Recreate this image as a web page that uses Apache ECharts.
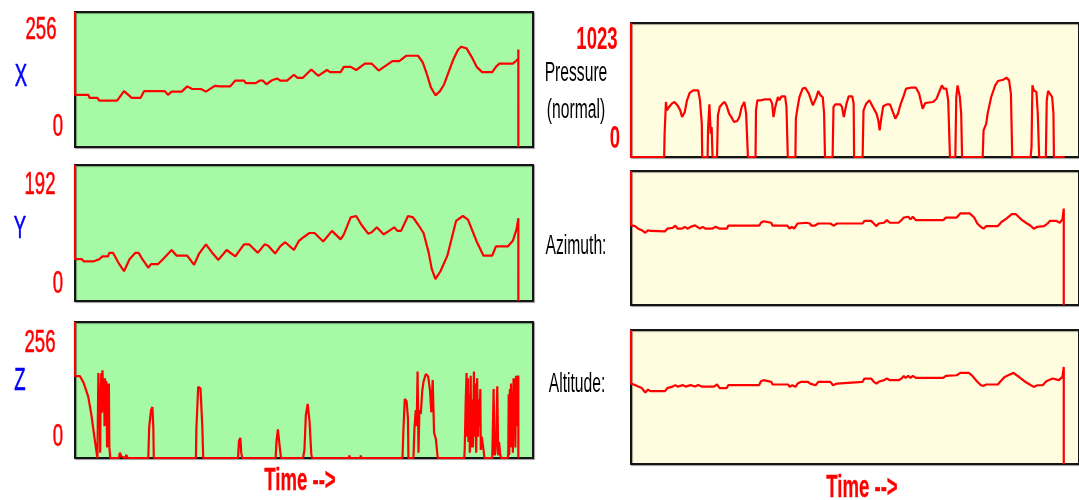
<!DOCTYPE html>
<html>
<head>
<meta charset="utf-8">
<script src="https://cdn.jsdelivr.net/npm/echarts@6/dist/echarts.min.js"></script>
<style>
  html, body { margin: 0; padding: 0; background: #ffffff; }
  #chart { width: 1079px; height: 500px; }
</style>
</head>
<body>
<div id="chart"></div>
<script>
// Pen tablet trace: six channels sampled over the same time span (time in % of capture).
const timeRange = [0, 100];

// Channel ranges and their tick labels
const xRange = [0, 256];   const xTicks = ['256', '0'];
const yRange = [0, 192];   const yTicks = ['192', '0'];
const zRange = [0, 256];   const zTicks = ['256', '0'];
const pRange = [0, 1023];  const pTicks = ['1023', '0'];
const azRange = [0, 360];
const altRange = [0, 90];

const channelNames = ['X', 'Y', 'Z'];
const penNames = ['Pressure', '(normal)', 'Azimuth:', 'Altitude:'];
const timeTitle = 'Time -->';

// [time, value] samples per channel
const xSamples = [[0,256],[0,99],[2.9,99],[3.2,93],[4.9,93],[5.3,88],[9.2,88],[10.7,106],[11.9,97],[12.4,93],[14.3,93],[15.1,106],[19.6,106],[20.3,99],[21.1,105],[23.3,105],[24.5,115],[25.6,110],[27.5,110],[28.6,105],[30.5,116],[31.6,115],[33.9,115],[35.0,126],[36.9,126],[37.3,121],[39.5,121],[40.3,126],[41.0,126],[41.8,119],[42.9,126],[44.1,130],[44.8,126],[46.3,126],[47.8,137],[48.6,131],[49.7,131],[51.6,147],[53.1,135],[55.0,146],[55.7,142],[58.0,142],[58.7,152],[60.2,152],[61.4,146],[63.3,158],[64.8,158],[66.3,145],[68.5,158],[69.3,163],[70.8,163],[72.3,173],[74.9,173],[75.9,161],[76.8,139],[77.7,113],[78.7,98],[79.7,106],[80.6,119],[82.5,164],[83.6,184],[84.3,190],[85.5,187],[86.6,171],[87.7,152],[88.9,142],[91.1,142],[91.9,152],[92.6,158],[95.6,158],[96.4,164],[96.8,168],[96.8,185],[96.8,0]];

const ySamples = [[0,192],[0,59],[1.5,59],[1.9,56],[4.1,56],[5.3,59],[6.0,63],[7.2,63],[7.5,68],[8.3,68],[9.4,55],[10.7,42],[11.9,59],[13.2,68],[13.9,68],[14.7,59],[16.0,47],[16.6,52],[18.1,52],[19.2,59],[21.1,72],[22.2,64],[24.5,64],[26.0,51],[27.1,67],[28.6,80],[30.1,67],[31.3,58],[33.1,72],[33.5,72],[35.0,63],[36.9,80],[38.0,80],[39.9,68],[41.4,80],[42.2,78],[43.7,67],[44.8,77],[45.9,83],[47.8,72],[48.9,85],[49.7,89],[51.2,96],[52.3,96],[54.2,84],[56.1,99],[58.0,87],[58.7,94],[60.2,118],[61.4,120],[62.5,108],[64.0,95],[64.8,97],[65.9,104],[67.4,94],[68.1,97],[69.7,104],[70.4,99],[71.2,99],[72.7,120],[73.8,118],[74.9,108],[76.1,96],[77.2,69],[77.9,45],[78.7,31],[79.8,42],[81.3,64],[83.2,113],[84.7,120],[85.8,115],[87.7,84],[89.2,64],[91.1,64],[91.9,77],[94.5,77],[95.6,85],[96.4,101],[96.8,117],[96.8,0]];

const zSamples = [[0,256],[0,154],[1.1,154],[1.9,141],[2.9,115],[3.6,80],[4.4,29],[4.9,0],
  [5.0,0],[5.1,160],[5.25,90],[5.4,130],[5.5,10],[5.6,120],[5.75,160],[5.9,85],[6.0,165],[6.15,110],[6.3,150],[6.45,60],[6.55,150],[6.7,85],[6.85,145],[7.0,20],[7.1,140],[7.25,60],[7.4,140],[7.5,20],[7.6,20],[7.7,0],
  [9.6,0],[9.8,10],[10.1,3],[10.3,0],[11.0,0],[11.2,6],[11.5,0],
  [16.0,0],[16.2,58],[16.6,90],[16.9,96],[17.1,58],[17.2,0],
  [26.4,0],[26.5,54],[26.9,134],[27.4,131],[27.8,58],[28.0,0],
  [35.6,0],[35.8,32],[36.1,38],[36.3,10],[36.5,0],
  [43.8,0],[44.0,32],[44.3,54],[44.6,51],[44.8,13],[45.0,0],
  [49.8,0],[50.1,16],[50.4,80],[50.8,102],[51.2,70],[51.6,6],[51.8,0],
  [59.8,0],[59.9,5],[60.0,0],[62.3,0],[62.4,5],[62.5,0],
  [71.5,0],[71.7,51],[72.0,111],[72.4,107],[72.7,74],[72.8,0],
  [73.9,0],[74.1,54],[74.4,90],[74.6,60],[74.8,163],[75.0,10],[75.2,90],[75.5,83],[75.8,125],[76.1,144],[76.6,158],[77.1,154],[77.5,128],[77.8,86],[78.1,147],[78.4,48],[78.8,35],[79.2,0],
  [85.0,0],[85.1,20],[85.3,105],[85.5,160],[85.6,40],[85.8,150],[85.9,30],[86.1,120],[86.2,10],[86.4,155],[86.5,20],[86.7,110],[86.9,20],[87.1,163],[87.2,40],[87.4,140],[87.6,10],[87.8,150],[88.0,40],[88.1,110],[88.3,60],[88.5,130],[88.6,15],[88.8,40],[89.2,15],[89.4,0],
  [91.1,0],[91.2,40],[91.4,130],[91.6,5],[91.8,10],[92.0,40],[92.2,135],[92.4,5],[92.6,30],[92.8,10],[93.0,0],
  [94.5,0],[94.6,10],[94.7,120],[94.8,5],[94.95,130],[95.1,20],[95.2,140],[95.35,30],[95.5,125],[95.6,10],[95.75,150],[95.9,40],[96.0,150],[96.15,20],[96.3,155],[96.45,60],[96.6,150],[96.8,155],[96.8,0]];

const pSamples = [[0,1023],[0,0],[7.4,0],[7.5,178],[7.8,420],[8.0,356],[8.5,382],[9.1,407],[9.7,420],[10.4,394],[11.0,356],[11.4,305],[12.0,344],[12.5,433],[13.1,489],[13.9,509],[15.0,509],[15.4,433],[15.8,255],[15.9,0],
  [17.1,0],[17.2,216],[17.5,402],[17.8,178],[18.0,229],[18.2,0],
  [19.2,0],[19.4,318],[19.8,382],[20.4,407],[20.9,420],[21.4,387],[21.9,331],[22.4,305],[23.0,267],[23.7,275],[24.2,305],[24.7,382],[25.3,420],[25.7,331],[26.1,0],
  [27.8,0],[27.9,356],[28.2,433],[29.0,433],[29.9,440],[31.1,440],[31.5,407],[31.8,305],[32.2,382],[32.8,458],[33.1,433],[33.6,463],[34.4,463],[34.7,382],[35.0,0],
  [36.7,0],[36.8,293],[37.2,382],[37.6,458],[38.3,522],[38.9,529],[39.7,484],[40.6,394],[41.4,458],[41.8,504],[42.3,471],[42.8,458],[43.1,331],[43.3,0],
  [45.0,0],[45.2,382],[45.6,402],[46.7,402],[47.1,382],[47.5,305],[48.1,407],[48.6,463],[49.4,463],[49.7,407],[49.8,0],
  [51.7,0],[51.9,356],[52.5,407],[53.2,433],[54.0,382],[54.8,331],[55.2,280],[55.5,204],[55.9,305],[56.3,387],[57.1,402],[57.8,402],[58.6,331],[59.0,293],[59.6,331],[60.1,394],[60.9,471],[61.4,522],[62.4,529],[63.6,529],[64.3,484],[65.1,369],[65.7,412],[67.4,420],[68.2,445],[68.8,496],[69.4,547],[69.8,522],[70.4,522],[70.8,433],[71.2,0],
  [72.4,0],[72.6,458],[72.9,547],[73.4,458],[73.7,331],[73.9,0],
  [78.5,0],[78.7,204],[79.3,255],[79.6,331],[80.4,458],[81.3,547],[81.9,580],[83.1,590],[83.8,606],[84.4,585],[84.8,484],[85.1,0],
  [89.2,0],[89.4,76],[89.6,547],[89.9,509],[90.5,496],[90.8,331],[91.1,0],
  [92.6,0],[92.8,433],[93.1,504],[93.5,484],[94.0,458],[94.3,331],[94.4,0],[96.8,0]];

const azSamples = [[0,360],[0,214],[0.9,212],[1.6,205],[2.4,201],[3.2,194],[3.8,201],[4.3,199],[7.6,198],[8.1,205],[9.3,207],[9.9,213],[10.4,205],[11.4,205],[12.0,210],[12.7,205],[13.3,210],[14.3,214],[14.8,210],[15.4,205],[16.0,210],[16.6,205],[18.1,205],[18.9,210],[19.2,214],[19.8,205],[21.4,205],[21.7,213],[28.6,213],[29.0,221],[29.6,225],[29.9,221],[31.3,221],[31.6,213],[34.9,213],[35.4,205],[35.9,210],[36.4,205],[37.2,219],[39.1,221],[39.9,219],[40.3,213],[41.0,213],[41.8,219],[44.5,219],[45.2,213],[46.0,219],[51.7,219],[52.1,226],[53.6,226],[54.2,219],[54.8,212],[55.3,219],[56.5,221],[57.1,228],[57.8,221],[59.7,221],[60.4,228],[60.9,235],[61.3,230],[61.9,237],[62.4,230],[62.9,237],[63.6,228],[69.7,228],[70.3,235],[72.7,235],[73.5,246],[75.6,246],[76.6,235],[77.3,219],[78.1,210],[78.7,205],[79.3,212],[81.9,212],[82.7,223],[83.8,232],[85.0,244],[85.9,244],[86.5,237],[87.3,228],[88.4,219],[89.2,213],[89.9,205],[90.7,210],[92.2,212],[93.0,219],[93.5,226],[94.9,226],[95.7,221],[96.3,230],[96.6,259],[96.6,0]];

const altSamples = [[0,90],[0,54],[0.9,53],[1.6,52],[2.4,51],[3.2,48],[3.8,50],[4.3,49],[7.6,49],[8.1,51],[9.3,52],[9.9,53],[10.4,52],[11.6,53],[12.2,52],[13.3,53],[14.3,52],[15.0,53],[15.8,52],[18.5,52],[19.2,53.4],[19.8,51],[21.4,51],[21.7,53],[28.6,53],[29.0,55.6],[29.6,56.3],[29.9,55.2],[31.3,55.2],[31.6,53.4],[35.1,53.4],[35.4,51.8],[36.0,52.9],[36.7,51.8],[37.2,54],[38.0,55.2],[39.5,55.2],[40.0,54],[40.3,52.9],[41.2,52.9],[41.8,55.2],[44.5,55.2],[45.1,52.9],[46.0,54],[51.7,55.2],[52.1,57.4],[53.6,57.4],[54.2,55.2],[54.8,54],[55.3,55.2],[56.5,56.3],[57.1,57.4],[57.8,56.3],[59.7,56.3],[60.4,57.4],[60.9,59.2],[61.3,57.8],[61.9,59.2],[62.4,57.8],[62.9,59.2],[63.6,57.8],[69.7,57.8],[70.3,59.2],[72.7,59.6],[73.5,61.2],[75.4,61.2],[76.2,59.2],[77.2,55.6],[78.1,52.9],[78.7,52.5],[79.3,53.4],[81.9,53.4],[82.5,55.6],[83.4,58.5],[84.2,59.6],[85.4,61.2],[86.1,59.6],[87.1,57.4],[88.0,55.2],[89.0,53.4],[89.9,51.8],[90.7,52.9],[91.9,52.9],[92.6,55.2],[93.2,56.3],[94.1,57.4],[95.5,56.3],[96.3,58.5],[96.6,65.2],[96.6,0]];

// Panel layout and backgrounds
const GREEN = '#a6faa6';
const CREAM = '#fffde0';
const panels = [
  { left: 75,  top: 12,  height: 135, bg: GREEN, range: xRange,   data: xSamples },
  { left: 75,  top: 165, height: 136, bg: GREEN, range: yRange,   data: ySamples },
  { left: 75,  top: 322, height: 136, bg: GREEN, range: zRange,   data: zSamples },
  { left: 631, top: 23,  height: 134, bg: CREAM, range: pRange,   data: pSamples },
  { left: 631, top: 171, height: 134, bg: CREAM, range: azRange,  data: azSamples },
  { left: 631, top: 330, height: 134, bg: CREAM, range: altRange, data: altSamples }
];
const PANEL_W = 458;

const FONT = '"Liberation Sans", Arial, sans-serif';
const SQUEEZE = 0.58;

// Narrow label text; 'heavy' adds a thin outline in the fill colour
function label(text, x, y, color, size, weight, heavy) {
  return {
    type: 'text', x: x, y: y, scaleX: SQUEEZE, z: 10,
    style: {
      text: text, fill: color,
      stroke: heavy ? color : null, lineWidth: heavy || 0,
      font: (weight || 'normal') + ' ' + size + 'px ' + FONT,
      textAlign: 'center', textVerticalAlign: 'middle'
    }
  };
}

const RED = '#ff0000', BLUE = '#0000ff', BLACK = '#000000';

const graphics = [
  // X
  label(xTicks[0], 41, 30, RED, 32, null, 0.6), label(channelNames[0], 21, 77, BLUE, 32, null, 0.6), label(xTicks[1], 58, 127, RED, 32, null, 0.6),
  // Y
  label(yTicks[0], 40, 185, RED, 32, null, 0.6), label(channelNames[1], 20, 229, BLUE, 32, null, 0.6), label(yTicks[1], 58, 284, RED, 32, null, 0.6),
  // Z
  label(zTicks[0], 40, 343, RED, 32, null, 0.6), label(channelNames[2], 20, 381, BLUE, 32, null, 0.6), label(zTicks[1], 58, 437, RED, 32, null, 0.6),
  label(timeTitle, 300, 481, RED, 32, 'bold', 0.3),
  // Pen channels
  label(pTicks[0], 597, 40, RED, 32, 'bold'), label(pTicks[1], 615, 139, RED, 32, 'bold'),
  label(penNames[0], 576, 74, BLACK, 27), label(penNames[1], 576, 111, BLACK, 27),
  label(penNames[2], 576, 247, BLACK, 27), label(penNames[3], 577, 385, BLACK, 27),
  label(timeTitle, 862, 488, RED, 32, 'bold', 0.3)
];

const option = {
  animation: false,
  backgroundColor: '#ffffff',
  grid: panels.map(p => ({
    left: p.left, top: p.top, width: PANEL_W, height: p.height,
    show: true, backgroundColor: p.bg,
    borderColor: '#151515', borderWidth: 2,
    shadowColor: 'rgba(0,0,0,0.35)', shadowBlur: 1, shadowOffsetX: 1, shadowOffsetY: 1
  })),
  xAxis: panels.map((p, i) => ({
    type: 'value', gridIndex: i, min: timeRange[0], max: timeRange[1], show: false
  })),
  yAxis: panels.map((p, i) => ({
    type: 'value', gridIndex: i, min: p.range[0], max: p.range[1], show: false
  })),
  series: panels.map((p, i) => ({
    type: 'line', xAxisIndex: i, yAxisIndex: i,
    data: p.data, showSymbol: false, clip: true,
    lineStyle: { color: RED, width: 2.2 },
    emphasis: { disabled: true }
  })),
  graphic: graphics
};

const chart = echarts.init(document.getElementById('chart'), null, { renderer: 'canvas' });
chart.setOption(option);
</script>
</body>
</html>
